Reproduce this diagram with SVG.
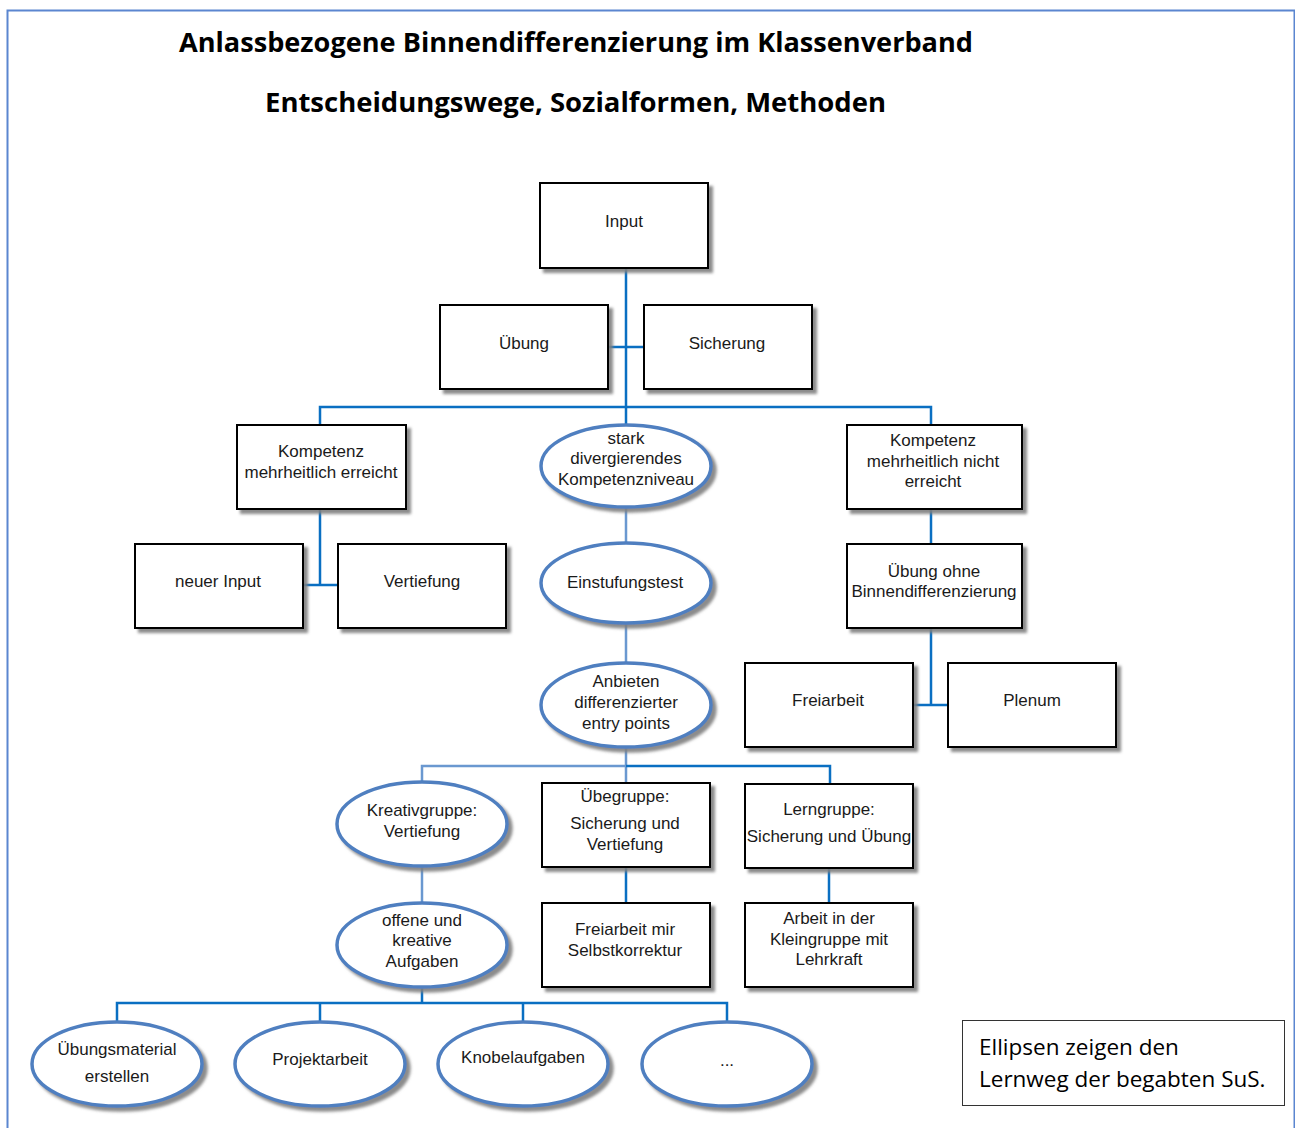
<svg xmlns="http://www.w3.org/2000/svg" width="1295" height="1128" viewBox="0 0 1295 1128">
<style>
  .box { fill: #fff; stroke: #000; stroke-width: 2; filter: url(#sh); }
  .ell { fill: #fff; stroke: #4f7fc0; stroke-width: 3.5; filter: url(#sh); }
  .t { font-family: "Liberation Sans", Arial, sans-serif; font-size: 17px; fill: #1a1a1a; text-anchor: middle; }
  .title { font-family: "Open Sans", "Liberation Sans", sans-serif; font-size: 26px; font-weight: bold; fill: #000; text-anchor: middle; }
  .legend { font-family: "Open Sans", "Liberation Sans", sans-serif; font-size: 22.5px; fill: #000; }
  .c1 { stroke: #0a6fc2; stroke-width: 2.5; fill: none; }
  .c2 { stroke: #6a98d0; stroke-width: 2.5; fill: none; }
</style>
<defs>
  <filter id="sh" x="-10%" y="-10%" width="130%" height="130%">
    <feDropShadow dx="4" dy="4" stdDeviation="1.5" flood-color="#7f7f7f" flood-opacity="0.9"/>
  </filter>
</defs>
<rect width="1295" height="1128" fill="#fff"/>
<path d="M7.5 1128 V10.5 H1294.5 V1128" fill="none" stroke="#5b86d0" stroke-width="2"/>

<g id="title">
  <text class="title" x="576" y="52" textLength="794" lengthAdjust="spacingAndGlyphs">Anlassbezogene Binnendifferenzierung im Klassenverband</text>
  <text class="title" x="575.5" y="112" textLength="621" lengthAdjust="spacingAndGlyphs">Entscheidungswege, Sozialformen, Methoden</text>
</g>

<g id="connectors">
  <path class="c1" d="M626 268 V407 M608 347 H644 M320 425 V407 H931 V425 M626 407 V425"/>
  <path class="c1" d="M320 509 V585 M303 585 H338"/>
  <path class="c1" d="M931 509 V544 M931 628 V705 M913 705 H948"/>
  <path class="c2" d="M626 508 V543 M626 622 V663 M626 748 V766 M422 782 V766 H626 V783"/>
  <path class="c1" d="M626 766 H830 V784"/>
  <path class="c2" d="M422 866 V903"/>
  <path class="c1" d="M626 867 V903 M829 868 V903"/>
  <path class="c1" d="M422 987 V1003 M117 1022 V1003 H727 V1022 M320 1003 V1022 M523 1003 V1022"/>
</g>

<g id="n-input"><rect class="box" x="540" y="183" width="168" height="85"/><text class="t" x="624" y="227">Input</text></g>
<g id="n-uebung"><rect class="box" x="440" y="305" width="168" height="84"/><text class="t" x="524" y="349">Übung</text></g>
<g id="n-sicherung"><rect class="box" x="644" y="305" width="168" height="84"/><text class="t" x="727" y="349">Sicherung</text></g>

<g id="n-erreicht"><rect class="box" x="237" y="425" width="169" height="84"/><text class="t" x="321" y="457">Kompetenz</text><text class="t" x="321" y="478">mehrheitlich erreicht</text></g>
<g id="n-stark"><ellipse class="ell" cx="626" cy="466" rx="85" ry="41"/><text class="t" x="626" y="444">stark</text><text class="t" x="626" y="464">divergierendes</text><text class="t" x="626" y="485">Kompetenzniveau</text></g>
<g id="n-nicht"><rect class="box" x="847" y="425" width="175" height="84"/><text class="t" x="933" y="446">Kompetenz</text><text class="t" x="933" y="467">mehrheitlich nicht</text><text class="t" x="933" y="487">erreicht</text></g>

<g id="n-neuer"><rect class="box" x="135" y="544" width="168" height="84"/><text class="t" x="218" y="587">neuer Input</text></g>
<g id="n-vertiefung"><rect class="box" x="338" y="544" width="168" height="84"/><text class="t" x="422" y="587">Vertiefung</text></g>
<g id="n-einstufung"><ellipse class="ell" cx="626" cy="583" rx="85" ry="40"/><text class="t" x="625" y="588">Einstufungstest</text></g>
<g id="n-ohne"><rect class="box" x="847" y="544" width="175" height="84"/><text class="t" x="934" y="577">Übung ohne</text><text class="t" x="934" y="597">Binnendifferenzierung</text></g>

<g id="n-anbieten"><ellipse class="ell" cx="626" cy="705" rx="85" ry="42"/><text class="t" x="626" y="687">Anbieten</text><text class="t" x="626" y="708">differenzierter</text><text class="t" x="626" y="729">entry points</text></g>
<g id="n-freiarbeit"><rect class="box" x="745" y="663" width="168" height="84"/><text class="t" x="828" y="706">Freiarbeit</text></g>
<g id="n-plenum"><rect class="box" x="948" y="663" width="168" height="84"/><text class="t" x="1032" y="706">Plenum</text></g>

<g id="n-kreativ"><ellipse class="ell" cx="422" cy="824" rx="85" ry="42"/><text class="t" x="422" y="816">Kreativgruppe:</text><text class="t" x="422" y="837">Vertiefung</text></g>
<g id="n-uebegruppe"><rect class="box" x="542" y="783" width="168" height="84"/><text class="t" x="625" y="802">Übegruppe:</text><text class="t" x="625" y="829">Sicherung und</text><text class="t" x="625" y="850">Vertiefung</text></g>
<g id="n-lerngruppe"><rect class="box" x="745" y="784" width="168" height="84"/><text class="t" x="829" y="815">Lerngruppe:</text><text class="t" x="829" y="842">Sicherung und Übung</text></g>

<g id="n-offene"><ellipse class="ell" cx="422" cy="945" rx="85" ry="42"/><text class="t" x="422" y="926">offene und</text><text class="t" x="422" y="946">kreative</text><text class="t" x="422" y="967">Aufgaben</text></g>
<g id="n-selbst"><rect class="box" x="542" y="903" width="168" height="84"/><text class="t" x="625" y="935">Freiarbeit mir</text><text class="t" x="625" y="956">Selbstkorrektur</text></g>
<g id="n-klein"><rect class="box" x="745" y="903" width="168" height="84"/><text class="t" x="829" y="924">Arbeit in der</text><text class="t" x="829" y="945">Kleingruppe mit</text><text class="t" x="829" y="965">Lehrkraft</text></g>

<g id="n-material"><ellipse class="ell" cx="117" cy="1064" rx="85" ry="42"/><text class="t" x="117" y="1055">Übungsmaterial</text><text class="t" x="117" y="1082">erstellen</text></g>
<g id="n-projekt"><ellipse class="ell" cx="320" cy="1064" rx="85" ry="42"/><text class="t" x="320" y="1065">Projektarbeit</text></g>
<g id="n-knobel"><ellipse class="ell" cx="523" cy="1064" rx="85" ry="42"/><text class="t" x="523" y="1063">Knobelaufgaben</text></g>
<g id="n-dots"><ellipse class="ell" cx="727" cy="1064" rx="85" ry="42"/><text class="t" x="727" y="1066">...</text></g>

<g id="legend">
  <rect x="962.5" y="1020.5" width="322" height="85" fill="#fff" stroke="#333" stroke-width="1"/>
  <text class="legend" x="979" y="1055">Ellipsen zeigen den</text>
  <text class="legend" x="979" y="1087">Lernweg der begabten SuS.</text>
</g>
</svg>
